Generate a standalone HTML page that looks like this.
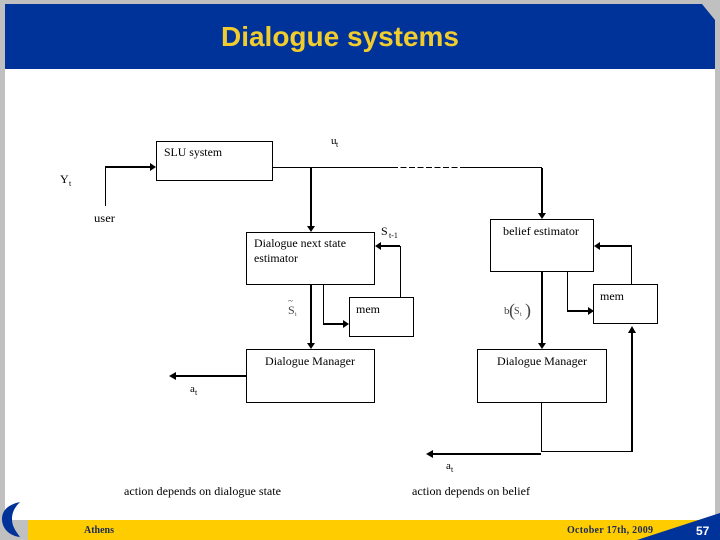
<!DOCTYPE html>
<html><head><meta charset="utf-8"><style>
html,body{margin:0;padding:0;background:#fff}
svg{display:block}
text{font-family:"Liberation Serif",serif;fill:#000;font-size:12px}
</style></head><body>
<svg width="720" height="540" viewBox="0 0 720 540" xmlns="http://www.w3.org/2000/svg">
<rect width="720" height="540" fill="#c0c0c0"/>
<rect x="5" y="69" width="710" height="451" fill="#fff"/>
<rect x="637" y="512" width="78" height="8" fill="#fff"/>
<polygon points="5,4 702,4 715,20 715,69 5,69" fill="#003399"/>
<text x="221" y="46" style="font-family:'Liberation Sans',sans-serif;font-weight:bold;font-size:28px;fill:#f0cc2e" textLength="238" lengthAdjust="spacingAndGlyphs">Dialogue systems</text>
<rect x="28" y="520" width="692" height="20" fill="#ffcc00"/>
<polygon points="637,540 720,513 720,540" fill="#003399"/>
<path d="M20,502 C6,505 2,512 2,519 C2,529 10,536 20,537 C15,530 12,526 12,519 C12,512 15,507 20,502Z" fill="#003399"/>
<text x="84" y="533" style="font-weight:bold;font-size:10px;fill:#1a2a5a" textLength="30" lengthAdjust="spacingAndGlyphs">Athens</text>
<text x="567" y="533" style="font-weight:bold;font-size:10px;fill:#1a2a5a" textLength="86" lengthAdjust="spacing">October 17th,  2009</text>
<text x="696" y="535" style="font-family:'Liberation Sans',sans-serif;font-weight:bold;font-size:12px;fill:#fff">57</text>

<g fill="none" stroke="#000" stroke-width="1">
<rect x="156.5" y="141.5" width="116" height="39"/>
<rect x="246.5" y="232.5" width="128" height="52"/>
<rect x="349.5" y="297.5" width="64" height="39"/>
<rect x="246.5" y="349.5" width="128" height="53"/>
<rect x="490.5" y="219.5" width="103" height="52"/>
<rect x="593.5" y="284.5" width="64" height="39"/>
<rect x="477.5" y="349.5" width="129" height="53"/>
<path d="M272,167.5H392M464,167.5H542"/>
<path d="M392,167.5H464" stroke-dasharray="6,2.5"/>
<path d="M105.5,206V167"/>
<path d="M323.5,284V324M400.5,297V246"/>
<path d="M567.5,271V311M631.5,284V246"/>
<path d="M541.5,402V451.5H632"/>
</g>
<g fill="none" stroke="#000" stroke-width="2">
<path d="M105,167H150"/>
<path d="M311,168V228M311,284V344"/>
<path d="M542,168V215M542,271V344"/>
<path d="M323,324H345M400,246H380"/>
<path d="M567,311H589M632,246H599"/>
<path d="M632,452V332"/>
<path d="M246,376H175M541,454H431"/>
</g>
<g fill="#000">
<polygon points="156,167 150,163 150,171"/>
<polygon points="311,232 307,226 315,226"/>
<polygon points="311,349 307,343 315,343"/>
<polygon points="542,219 538,213 546,213"/>
<polygon points="542,349 538,343 546,343"/>
<polygon points="349,324 343,320 343,328"/>
<polygon points="375,246 381,242 381,250"/>
<polygon points="594,311 588,307 588,315"/>
<polygon points="594,246 600,242 600,250"/>
<polygon points="632,326 628,333 636,333"/>
<polygon points="169,376 176,372 176,380"/>
<polygon points="426,454 433,450 433,458"/>
</g>

<text x="164" y="156" textLength="58" lengthAdjust="spacingAndGlyphs">SLU system</text>
<text x="331" y="144" style="font-size:11px">u</text><text x="336" y="147" style="font-size:8px">t</text>
<text x="60" y="183" style="font-size:12px">Y</text><text x="69" y="186" style="font-size:8px">t</text>
<text x="94" y="222" textLength="21" lengthAdjust="spacingAndGlyphs">user</text>
<text x="254" y="247" textLength="92" lengthAdjust="spacingAndGlyphs">Dialogue next state</text>
<text x="254" y="262" textLength="44" lengthAdjust="spacingAndGlyphs">estimator</text>
<text x="381" y="235" style="font-size:12px">S</text><text x="389" y="238" style="font-size:8px">t-1</text>
<text x="288" y="314" style="font-size:12px;fill:#444">S</text><text x="295" y="316" style="font-size:6px;fill:#444">t</text>
<text x="288" y="304" style="font-size:9px;fill:#444">~</text>
<text x="356" y="313" textLength="24" lengthAdjust="spacingAndGlyphs">mem</text>
<text x="265" y="365" textLength="90" lengthAdjust="spacingAndGlyphs">Dialogue Manager</text>
<text x="190" y="392" style="font-size:11px">a</text><text x="195" y="395" style="font-size:8px">t</text>
<text x="503" y="235" textLength="76" lengthAdjust="spacingAndGlyphs">belief estimator</text>
<text x="600" y="300" textLength="24" lengthAdjust="spacingAndGlyphs">mem</text>
<text x="504" y="314" style="font-size:11px;fill:#444">b</text>
<text x="509" y="316" style="font-size:18px;fill:#444;font-weight:normal">(</text>
<text x="514" y="314" style="font-size:10px;fill:#444">S</text><text x="520" y="316" style="font-size:6px;fill:#444">t</text>
<text x="525" y="316" style="font-size:18px;fill:#444">)</text>
<text x="497" y="365" textLength="90" lengthAdjust="spacingAndGlyphs">Dialogue Manager</text>
<text x="446" y="469" style="font-size:11px">a</text><text x="451" y="472" style="font-size:8px">t</text>
<text x="124" y="495" textLength="157" lengthAdjust="spacingAndGlyphs">action depends on dialogue state</text>
<text x="412" y="495" textLength="118" lengthAdjust="spacingAndGlyphs">action depends on belief</text>
</svg>
</body></html>
